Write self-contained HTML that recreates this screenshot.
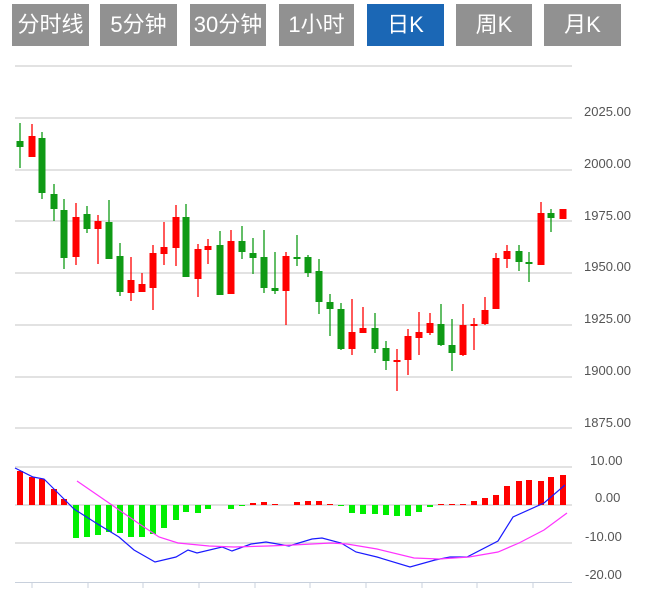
<!DOCTYPE html>
<html><head><meta charset="utf-8"><style>
body{margin:0;width:652px;height:589px;background:#fff;overflow:hidden;font-family:"Liberation Sans","Noto Sans CJK SC",sans-serif}
.b{position:absolute;top:4px;height:42px;background:#919191;color:#fff;font-size:22px;line-height:42px;text-align:center}
</style></head><body>
<div class="b" style="left:12px;width:77px">分时线</div>
<div class="b" style="left:100px;width:77px">5分钟</div>
<div class="b" style="left:190px;width:76px">30分钟</div>
<div class="b" style="left:279px;width:75px">1小时</div>
<div class="b" style="left:367px;width:77px;background:#1b67b5">日K</div>
<div class="b" style="left:456px;width:76px">周K</div>
<div class="b" style="left:544px;width:77px">月K</div>
<svg style="position:absolute;left:0;top:0" width="652" height="589">
<g stroke="#e2e2e2" stroke-width="2">
<line x1="15" x2="572" y1="66" y2="66"/>
<line x1="15" x2="572" y1="118" y2="118"/><line x1="15" x2="572" y1="170" y2="170"/>
<line x1="15" x2="572" y1="221" y2="221"/><line x1="15" x2="572" y1="273" y2="273"/>
<line x1="15" x2="572" y1="325" y2="325"/><line x1="15" x2="572" y1="377" y2="377"/>
<line x1="15" x2="572" y1="428" y2="428"/>
<line x1="15" x2="572" y1="467" y2="467"/><line x1="15" x2="572" y1="505" y2="505"/>
<line x1="15" x2="572" y1="543" y2="543"/>
</g>
<g stroke="#c8d0dc" stroke-width="1"><line x1="15" x2="572" y1="582.5" y2="582.5"/>
<path d="M32 582v6M88 582v6M143 582v6M199 582v6M255 582v6M310 582v6M366 582v6M422 582v6M477 582v6M533 582v6"/></g>
<g fill="#555" font-size="13">
<text x="584" y="116">2025.00</text><text x="584" y="168">2000.00</text><text x="584" y="220">1975.00</text>
<text x="584" y="271">1950.00</text><text x="584" y="323">1925.00</text><text x="584" y="375">1900.00</text>
<text x="584" y="427">1875.00</text>
<text x="590" y="465">10.00</text><text x="595" y="502">0.00</text><text x="585" y="541">-10.00</text><text x="585" y="579">-20.00</text>
</g>
<g id="c"></g>
<g id="m"></g>
<polyline fill="none" stroke="#1a1aff" stroke-width="1.2" points="15,468 33,477 44,479 74,509 96,523 119,537 134,550 155,562 176,557 188,550 197,553 222,547 232,551 251,544 266,542 289,546 312,539 322,538 341,543 356,552 377,557 410,567 435,560 450,557 467,557 498,541 513,517 544,503 565,485"/>
<polyline fill="none" stroke="#ff33ff" stroke-width="1.2" points="77,481 109,503 138,523 159,537 178,543 209,546 234,547 268,546 293,545 331,543 347,544 377,549 414,558 439,559 469,557 498,552 519,543 544,530 567,513"/>
</svg>
<script>
var C=[[20,'g',141,147,123,168],[32,'r',136,157,124,157],[42,'g',138,193,132,199],[54,'g',194,209,184,221],[64,'g',210,258,199,269],[76,'r',217,257,203,265],[87,'g',214,229,206,233],[98,'r',221,229,215,264],[109,'g',222,259,200,259],[120,'g',256,292,243,296],[131,'r',280,293,257,301],[142,'r',284,292,273,292],[153,'r',253,288,245,310],[164,'r',247,254,222,265],[176,'r',217,248,205,266],[186,'g',217,277,204,277],[198,'r',249,279,244,297],[208,'r',246,250,239,264],[220,'g',245,295,231,295],[231,'r',241,294,230,294],[242,'g',241,252,226,259],[253,'g',253,258,238,274],[264,'g',257,288,230,293],[275,'g',288,291,252,294],[286,'r',256,291,252,325],[297,'g',257,259,235,266],[308,'g',257,273,255,277],[319,'g',271,302,259,314],[330,'g',302,309,294,336],[341,'g',309,349,303,350],[352,'r',332,349,299,355],[363,'r',328,333,307,333],[375,'g',328,349,313,353],[386,'g',348,361,341,370],[397,'r',360,361,349,391],[408,'r',336,360,329,375],[419,'r',332,338,312,355],[430,'r',323,333,313,335],[441,'g',324,345,304,346],[452,'g',345,353,319,371],[463,'r',325,355,304,356],[474,'r',324,325,318,350],[485,'r',310,324,297,325],[496,'r',258,309,253,309],[507,'r',251,259,245,268],[519,'g',251,262,245,271],[529,'g',262,264,252,282],[541,'r',213,265,202,265],[551,'g',213,218,209,232],[563,'r',209,219,209,219]];
var M=[471,477,479,489,499,538,537,535,532,533,537,537,534,528,520,512,513,509,505,509,506,503,502,504,505,502,501,501,504,506,513,514,514,515,516,516,512,507,504,504,504,501,498,495,486,481,480,481,477,475];
var s='',ns='http://www.w3.org/2000/svg';
C.forEach(function(c){var col=c[1]=='r'?'#ff0000':'#0f9a15';s+='<line x1="'+c[0]+'" x2="'+c[0]+'" y1="'+c[4]+'" y2="'+c[5]+'" stroke="'+col+'" stroke-width="1.3"/><rect x="'+(c[0]-3.5)+'" y="'+c[2]+'" width="7" height="'+Math.max(2,c[3]-c[2])+'" fill="'+col+'"/>';});
var t='';M.forEach(function(v,i){var x=C[i][0];if(v<505)t+='<rect x="'+(x-3)+'" y="'+v+'" width="6" height="'+(505-v)+'" fill="#ff0000"/>';else if(v>505)t+='<rect x="'+(x-3)+'" y="505" width="6" height="'+(v-505)+'" fill="#00ee00"/>';});
var g=document.getElementById('c');g.innerHTML=s;document.getElementById('m').innerHTML=t;
</script>
</body></html>
